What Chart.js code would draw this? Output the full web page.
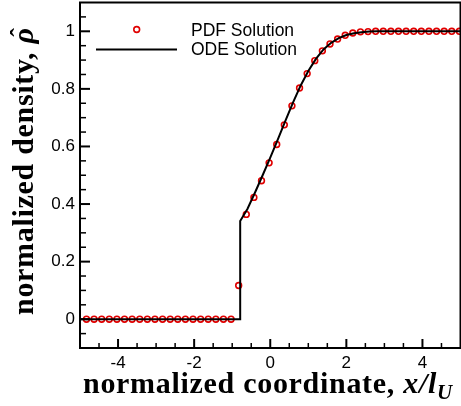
<!DOCTYPE html>
<html><head><meta charset="utf-8">
<script src="https://cdn.jsdelivr.net/npm/chart.js@4.4.1/dist/chart.umd.min.js"></script>
<style>html,body{margin:0;padding:0;background:#fff;}canvas{display:block;}</style>
</head><body>
<canvas id="c" width="461" height="406"></canvas>
<script>
const pdfX = [-4.83,-4.63,-4.43,-4.23,-4.03,-3.83,-3.63,-3.43,-3.23,-3.03,-2.83,-2.63,-2.43,-2.23,-2.03,-1.83,-1.63,-1.43,-1.23,-1.03,
  -0.83,-0.63,-0.43,-0.23,-0.03,0.17,0.37,0.57,0.77,0.97,1.17,1.37,1.57,1.77,1.97,2.17,2.37,2.57,2.77,2.97,
  3.17,3.37,3.57,3.77,3.97,4.17,4.37,4.57,4.77,4.97];
const pdfY = [0,0,0,0,0,0,0,0,0,0,0,0,0,0,0,0,0,0,0,0,
  0.117,0.364,0.423,0.481,0.543,0.607,0.675,0.741,0.803,0.853,0.898,0.932,0.956,0.973,0.986,0.994,0.998,0.999,1,1,
  1,1,1,1,1,1,1,1,1,1];
const odeX = [-5,-0.79,-0.79,-0.6,-0.4,-0.2,0,0.2,0.4,0.6,0.8,1.0,1.2,1.4,1.6,1.8,2.0,2.2,2.4,2.6,2.8,3.0,3.5,5];
const odeY = [0,0,0.341,0.383,0.440,0.500,0.561,0.625,0.690,0.753,0.812,0.862,0.904,0.937,0.960,0.976,0.987,0.993,0.997,0.999,1.0,1.0,1.0,1.0];
const xTickValues = [-4,-2,0,2,4];
const xTickLabels = ['-4','-2','0','2','4'];
const yTickValues = [0,0.2,0.4,0.6,0.8,1];
const yTickLabels = ['0','0.2','0.4','0.6','0.8','1'];
const xMinorTicks = [-4.5,-3.5,-3,-2.5,-1.5,-1,-0.5,0.5,1,1.5,2.5,3,3.5,4.5];
const yMinorTicks = [-0.05,0.05,0.1,0.15,0.25,0.3,0.35,0.45,0.5,0.55,0.65,0.7,0.75,0.85,0.9,0.95,1.05];
const legendLabels = ['PDF Solution','ODE Solution'];

const RED = '#e00000';
const SANS = '"Liberation Sans", Arial, sans-serif';
const SERIF = '"Liberation Serif", "Times New Roman", serif';

const decor = {
  id: 'decor',
  afterDraw(chart) {
    const ctx = chart.ctx, a = chart.chartArea;
    const xs = chart.scales.x, ys = chart.scales.y;
    ctx.save();
    ctx.strokeStyle = '#000';
    ctx.lineWidth = 2;
    xTickValues.forEach(v => { const p = xs.getPixelForValue(v); ctx.beginPath(); ctx.moveTo(p, a.bottom); ctx.lineTo(p, a.bottom - 9); ctx.stroke(); });
    yTickValues.forEach(v => { const p = ys.getPixelForValue(v); ctx.beginPath(); ctx.moveTo(a.left, p); ctx.lineTo(a.left + 10, p); ctx.stroke(); });
    ctx.lineWidth = 1.5;
    xMinorTicks.forEach(v => { const p = xs.getPixelForValue(v); ctx.beginPath(); ctx.moveTo(p, a.bottom); ctx.lineTo(p, a.bottom - 5); ctx.stroke(); });
    yMinorTicks.forEach(v => { const p = ys.getPixelForValue(v); ctx.beginPath(); ctx.moveTo(a.left, p); ctx.lineTo(a.left + 6, p); ctx.stroke(); });
    ctx.lineWidth = 2;
    ctx.strokeRect(a.left, a.top, a.right - a.left, a.bottom - a.top);

    // legend
    ctx.beginPath(); ctx.strokeStyle = RED; ctx.lineWidth = 1.6;
    ctx.arc(136.7, 29.5, 2.9, 0, Math.PI * 2); ctx.stroke();
    ctx.beginPath(); ctx.strokeStyle = '#000'; ctx.lineWidth = 2;
    ctx.moveTo(96, 49.5); ctx.lineTo(177, 49.5); ctx.stroke();
    ctx.fillStyle = '#000';
    ctx.font = '17.5px ' + SANS;
    ctx.textBaseline = 'alphabetic'; ctx.textAlign = 'left';
    ctx.fillText(legendLabels[0], 191, 35.5);
    ctx.fillText(legendLabels[1], 191, 54.5);

    // x title
    ctx.letterSpacing = '0.7px';
    let x = 83; const by = 393;
    ctx.font = 'bold 30px ' + SERIF;
    const t1 = 'normalized coordinate, ';
    ctx.fillText(t1, x, by); x += ctx.measureText(t1).width;
    ctx.font = 'italic bold 30px ' + SERIF;
    ctx.fillText('x/l', x, by); x += ctx.measureText('x/l').width;
    ctx.font = 'italic bold 21px ' + SERIF;
    ctx.fillText('U', x, by + 6);

    // y title
    ctx.translate(33, 315);
    ctx.rotate(-Math.PI / 2);
    ctx.font = 'bold 30px ' + SERIF;
    const t2 = 'normalized density, ';
    ctx.fillText(t2, 0, 0); let yx = ctx.measureText(t2).width;
    ctx.font = 'italic bold 30px ' + SERIF;
    ctx.fillText('\u03C1', yx, 0);
    const rw = ctx.measureText('\u03C1').width;
    ctx.letterSpacing = '0px';
    ctx.font = 'bold 26px ' + SERIF;
    ctx.textAlign = 'center';
    ctx.fillText('\u02C6', yx + rw / 2 + 3, -5);
    ctx.restore();
  }
};

new Chart(document.getElementById('c'), {
  type: 'scatter',
  data: {
    datasets: [
      { label: legendLabels[0], data: pdfX.map((v, i) => ({ x: v, y: pdfY[i] })),
        showLine: false, pointStyle: 'circle', pointRadius: 2.9, pointBorderWidth: 1.6,
        pointBorderColor: RED, pointBackgroundColor: 'rgba(0,0,0,0)', order: 2 },
      { label: legendLabels[1], data: odeX.map((v, i) => ({ x: v, y: odeY[i] })),
        showLine: true, pointRadius: 0, borderColor: '#000', borderWidth: 2, tension: 0, order: 1 }
    ]
  },
  options: {
    responsive: false, animation: false, devicePixelRatio: 1,
    layout: { autoPadding: false, padding: { top: 2.5, right: 0.5, left: 0, bottom: 0 } },
    plugins: { legend: { display: false }, tooltip: { enabled: false } },
    scales: {
      x: {
        type: 'linear', min: -5, max: 5,
        grid: { display: false, drawTicks: false }, border: { display: false },
        afterBuildTicks: s => { s.ticks = xTickValues.map(v => ({ value: v })); },
        afterFit: s => { s.height = 58; s.paddingLeft = 0; s.paddingRight = 0; },
        ticks: { padding: 5, color: '#000', font: { family: SANS, size: 17 },
          callback: (v) => xTickLabels[xTickValues.indexOf(v)] }
      },
      y: {
        type: 'linear', min: -0.1, max: 1.1,
        grid: { display: false, drawTicks: false }, border: { display: false },
        afterBuildTicks: s => { s.ticks = yTickValues.map(v => ({ value: v })); },
        afterFit: s => { s.width = 80; s.paddingTop = 0; s.paddingBottom = 0; },
        ticks: { padding: 5, color: '#000', font: { family: SANS, size: 17 },
          callback: (v) => yTickLabels[yTickValues.indexOf(v)] }
      }
    }
  },
  plugins: [decor]
});
</script>
</body></html>
